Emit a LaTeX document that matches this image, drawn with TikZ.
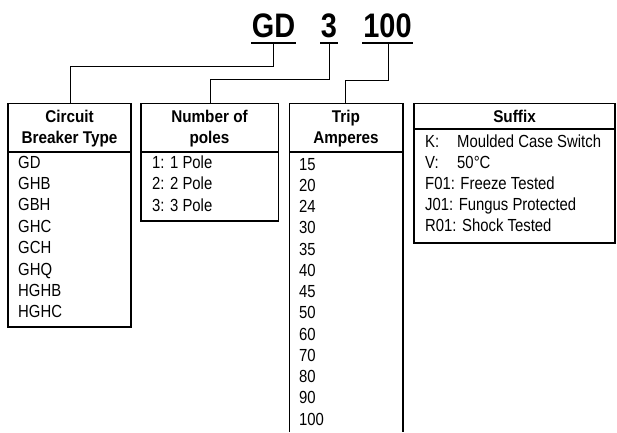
\documentclass[tikz,border=0pt]{standalone}
\usepackage{fontspec}
\setmainfont{Liberation Sans}[FakeStretch=0.85]
\newfontfamily\hdrfont{Liberation Sans Bold}[FakeStretch=0.9]
\newfontfamily\ttlfont{Liberation Sans Bold}[FakeStretch=0.85]
\begin{document}
\begin{tikzpicture}[x=1pt,y=1pt,
  boxline/.style={line width=1.1pt},
  conn/.style={line width=0.9pt},
  uline/.style={line width=2.6pt},
  item/.style={anchor=base west,inner sep=0pt,font=\fontsize{17.5}{20}\selectfont},
  hdr/.style={anchor=base,inner sep=0pt,font=\hdrfont\fontsize{17}{20}\selectfont},
  ttl/.style={anchor=base,inner sep=0pt,font=\ttlfont\fontsize{34}{36}\selectfont}]
\useasboundingbox (0,0) rectangle (617,-432);
\fill[white] (0,0) rectangle (617,-432);

% title
\node[ttl] (tgd) at (273.5,-37) {GD};
\node[ttl] (t3) at (329,-37) {3};
\node[ttl] (t100) at (387.5,-37) {100};
\draw[uline] (251,-43) -- (296,-43);
\draw[uline] (320,-43) -- (337.5,-43);
\draw[uline] (362,-43) -- (413,-43);
\coordinate (ugd) at (273,-43);
\coordinate (u3) at (329.5,-43);
\coordinate (u100) at (388,-43);

% boxes
\draw[boxline] (8,-103.5) rectangle (131,-327);
\draw[boxline] (8,-152) -- (131,-152);
\draw[boxline] (141,-103.5) rectangle (278.5,-221);
\draw[boxline] (141,-152) -- (278.5,-152);
\draw[boxline] (289.5,-432) -- (289.5,-103.5) -- (403,-103.5) -- (403,-432);
\draw[boxline] (289.5,-152) -- (403,-152);
\draw[boxline] (414,-103.5) rectangle (615,-243);
\draw[boxline] (414,-129) -- (615,-129);

\coordinate (c1) at (70,-103.5);
\coordinate (c2) at (210,-103.5);
\coordinate (c3) at (345.5,-103.5);
\coordinate (k1) at (0,-66);
\coordinate (k2) at (0,-79);
\coordinate (k3) at (0,-80);

% connectors
\draw[conn] (ugd) -- (ugd |- k1) -| (c1);
\draw[conn] (u3) -- (u3 |- k2) -| (c2);
\draw[conn] (u100) -- (u100 |- k3) -| (c3);

% headers
\node[hdr] (h1a) at (69.5,-122) {Circuit};
\node[hdr] (h1b) at (69.5,-143) {Breaker Type};
\node[hdr] (h2a) at (209.5,-122) {Number of};
\node[hdr] (h2b) at (209.5,-143) {poles};
\node[hdr] (h3a) at (346,-122) {Trip};
\node[hdr] (h3b) at (346,-143) {Amperes};
\node[hdr] (h4) at (514.5,-122) {Suffix};

% box 1 items
\foreach \t [count=\i from 0] in {GD,GHB,GBH,GHC,GCH,GHQ,HGHB,HGHC}
  \node[item] (a\i) at (18,-168-21.4*\i) {\t};
% box 2 items
\foreach \t [count=\i from 0] in {1: 1 Pole,2: 2 Pole,3: 3 Pole}
  \node[item] (p\i) at (152,-168.5-21.4*\i) {\t};
% box 3 items
\foreach \t [count=\i from 0] in {15,20,24,30,35,40,45,50,60,70,80,90,100}
  \node[item] (r\i) at (299,-170-21.25*\i) {\t};
% box 4 items
\node[item] (s1a) at (425,-147) {K:};
\node[item] (s1b) at (457,-147) {Moulded Case Switch};
\node[item] (s2a) at (425,-168) {V:};
\node[item] (s2b) at (457,-168) {50°C};
\node[item] (s3) at (425,-189) {F01: Freeze Tested};
\node[item] (s4) at (425,-210) {J01: Fungus Protected};
\node[item] (s5) at (425,-231) {R01: Shock Tested};
\end{tikzpicture}
\end{document}
